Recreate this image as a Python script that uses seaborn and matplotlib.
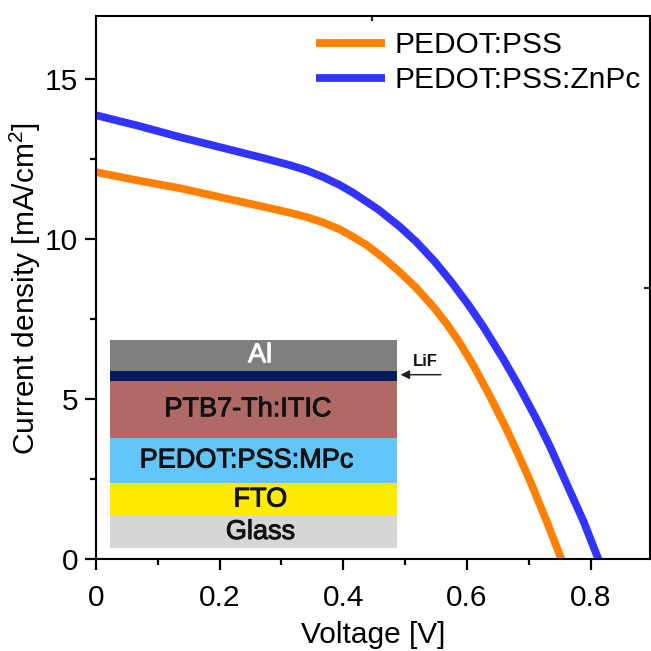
import matplotlib
matplotlib.use('Agg')
import matplotlib.pyplot as plt
import matplotlib.patheffects as pe
from matplotlib.patches import FancyArrowPatch
import seaborn as sns
import pandas as pd

# values
voltage_pss = [0, 0.0704, 0.135, 0.205, 0.273, 0.3135, 0.34, 0.367, 0.394, 0.41, 0.437, 0.464, 0.491,
               0.518, 0.545, 0.567, 0.586, 0.61, 0.637, 0.664, 0.6825, 0.7015, 0.728, 0.752, 0.7585]
current_pss = [12.1, 11.83, 11.6, 11.3, 11.01, 10.83, 10.7, 10.53, 10.31, 10.14, 9.83, 9.43, 8.98,
               8.48, 7.9, 7.36, 6.83, 6.07, 5.1, 4.06, 3.29, 2.47, 1.22, 0.03, -0.3]
voltage_znpc = [0, 0.0704, 0.135, 0.205, 0.273, 0.3135, 0.34, 0.367, 0.394, 0.4155, 0.456, 0.491, 0.518,
                0.548, 0.575, 0.602, 0.626, 0.658, 0.685, 0.712, 0.734, 0.761, 0.788, 0.812, 0.82]
current_znpc = [13.88, 13.54, 13.2, 12.86, 12.53, 12.32, 12.16, 11.95, 11.7, 11.46, 10.94, 10.4, 9.92,
                9.3, 8.66, 7.96, 7.28, 6.28, 5.37, 4.39, 3.53, 2.36, 1.2, 0.02, -0.35]
names = ['PEDOT:PSS', 'PEDOT:PSS:ZnPc']
colors = ['#ff8000', '#3333ff']

x_ticks = [0, 0.2, 0.4, 0.6, 0.8]
x_tick_labels = ['0', '0.2', '0.4', '0.6', '0.8']
y_ticks = [0, 5, 10, 15]

layer_names = ['Glass', 'FTO', 'PEDOT:PSS:MPc', 'PTB7-Th:ITIC', 'LiF', 'Al']
layer_heights = [32, 33, 45, 57.5, 9.5, 31.5]
layer_colors = ['#d6d6d6', '#ffeb00', '#62c6fa', '#b06a66', '#001c5c', '#7f7f7f']
layer_text_x = [0.025, 0.024, -0.024, -0.019, 0, 0.023]

sns.set_theme(style='ticks')
plt.rcParams['font.family'] = ['Liberation Sans', 'DejaVu Sans']
plt.rcParams['mathtext.fontset'] = 'custom'
plt.rcParams['mathtext.rm'] = 'Liberation Sans'
plt.rcParams['mathtext.default'] = 'regular'

df = pd.DataFrame({
    'voltage': voltage_pss + voltage_znpc,
    'current': current_pss + current_znpc,
    'device': [names[0]] * len(voltage_pss) + [names[1]] * len(voltage_znpc),
})

fig = plt.figure(figsize=(6.51, 6.51), dpi=100)
ax = fig.add_axes([96 / 651, 92 / 651, 554 / 651, 543.5 / 651])

sns.lineplot(
    data=df, x='voltage', y='current', hue='device', hue_order=names,
    palette=colors, linewidth=5.6, ax=ax, errorbar=None, estimator=None, sort=False,
    solid_capstyle='butt'
)

ax.set_xlim(0, 0.896)
ax.set_ylim(0, 17)
ax.set_xticks(x_ticks)
ax.set_xticklabels(x_tick_labels)
ax.set_yticks(y_ticks)
ax.set_xticks([0.1, 0.3, 0.5, 0.7], minor=True)
ax.set_yticks([2.5, 7.5, 12.5], minor=True)
ax.tick_params(which='major', length=8, width=1.6, labelsize=21.5, colors='black')
ax.tick_params(axis='x', which='major', pad=10)
ax.tick_params(axis='y', which='major', pad=5)
ax.tick_params(which='minor', length=4, width=1.6, colors='black')

for side in ['top', 'right', 'left', 'bottom']:
    ax.spines[side].set_visible(True)
    ax.spines[side].set_linewidth(1.5)
    ax.spines[side].set_color('black')

# the two stray inward ticks on the frame
top = ax.secondary_xaxis('top')
top.set_xticks([0.447])
top.set_xticklabels([])
top.tick_params(direction='in', length=4, width=1.6)
top.spines['top'].set_visible(False)
right = ax.secondary_yaxis('right')
right.set_yticks([8.49])
right.set_yticklabels([])
right.tick_params(direction='in', length=4, width=1.6)
right.spines['right'].set_visible(False)

ax.set_xlabel('Voltage [V]', fontsize=21.5, color='black')
ax.set_ylabel('Current density [mA/cm$^{2}$]', fontsize=21.5, color='black')
ax.xaxis.set_label_coords(0.5, -0.114)
ax.yaxis.set_label_coords(-0.096, 0.498)

handles, labels = ax.get_legend_handles_labels()
for h in handles:
    h.set_solid_capstyle('butt')
ax.legend(
    handles, labels, loc='center left', bbox_to_anchor=(0.398, 0.913), frameon=False,
    fontsize=21.5, handlelength=2.3, handletextpad=0.3, labelspacing=0.22,
    borderaxespad=0, borderpad=0, labelcolor='black'
)

# device stack
inset = fig.add_axes([110 / 651, (651 - 548) / 651, 287 / 651, 208.5 / 651])
bottom = 0
for name, height, color, text_x in zip(layer_names, layer_heights, layer_colors, layer_text_x):
    inset.bar(0, height, width=1, bottom=bottom, color=color, linewidth=0)
    if name != 'LiF':
        text_color = 'white' if name == 'Al' else '#111111'
        inset.text(
            text_x, bottom + height / 2, name, ha='center', va='center', fontsize=19.5,
            color=text_color,
            path_effects=[pe.withStroke(linewidth=0.7, foreground=text_color)]
        )
    bottom += height
inset.set_xlim(-0.5, 0.5)
inset.set_ylim(0, bottom)
inset.axis('off')

fig.text(425 / 651, 1 - 362 / 651, 'LiF', fontsize=12, fontweight='bold', color='#111111', ha='center', va='center')
fig.add_artist(FancyArrowPatch(
    (441 / 651, 1 - 374.7 / 651), (400.5 / 651, 1 - 374.7 / 651), transform=fig.transFigure,
    arrowstyle='-|>', mutation_scale=13, linewidth=1.1, color='#222222', shrinkA=0, shrinkB=0
))

fig.savefig('out.png', dpi=100)
